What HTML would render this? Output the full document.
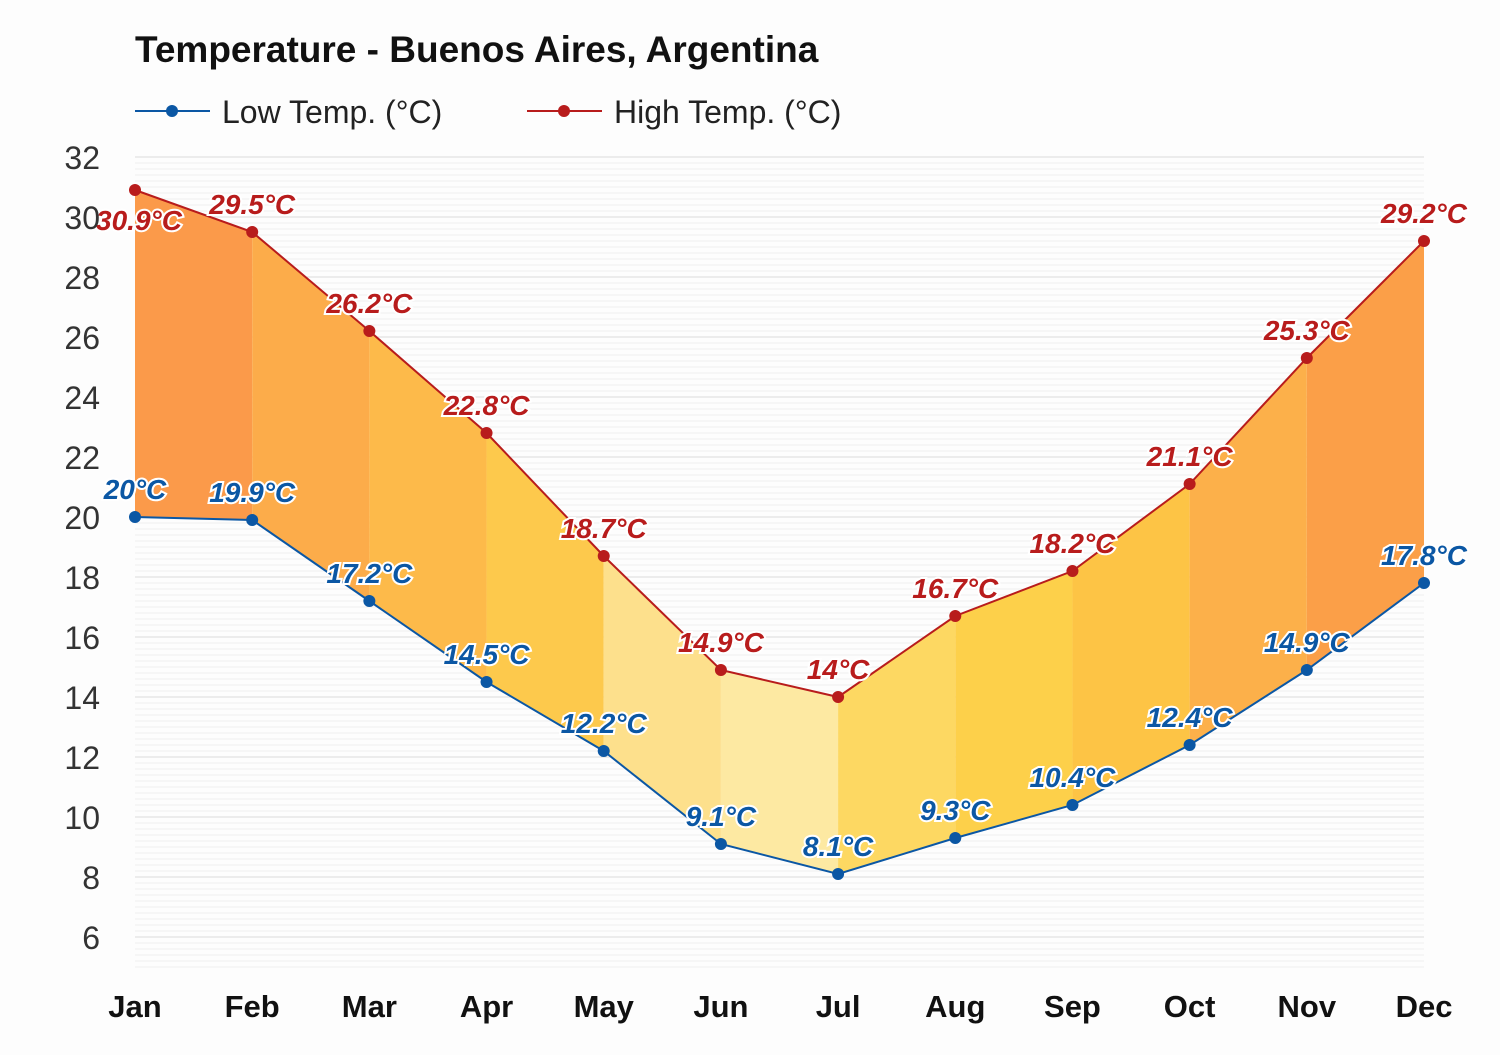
<!DOCTYPE html>
<html><head><meta charset="utf-8"><style>
body{margin:0;background:#fdfdfd;}
svg text{font-family:"Liberation Sans",Arial,sans-serif;}
.lbl{font-size:28px;font-weight:bold;font-style:italic;text-anchor:middle;paint-order:stroke;stroke:#fff;stroke-width:4px;}
</style></head><body>
<svg id="c" width="1500" height="1050" xmlns="http://www.w3.org/2000/svg">
<rect width="1500" height="1050" fill="#fdfdfd"/>
<text x="135" y="62" font-size="37" font-weight="bold" fill="#111">Temperature - Buenos Aires, Argentina</text>
<g><line x1="135" y1="111" x2="210" y2="111" stroke="#0b57a4" stroke-width="2"/><circle cx="172" cy="111" r="6" fill="#0b57a4"/><text x="222" y="123" font-size="32" fill="#222">Low Temp. (°C)</text></g>
<g><line x1="527" y1="111" x2="602" y2="111" stroke="#b81c1c" stroke-width="2"/><circle cx="564" cy="111" r="6" fill="#b81c1c"/><text x="614" y="123" font-size="32" fill="#222">High Temp. (°C)</text></g>
<g id="grid"></g><g id="fills"></g><g id="lines"></g><g id="labels"></g><g id="axes"></g>
</svg>
<script>
const months=["Jan","Feb","Mar","Apr","May","Jun","Jul","Aug","Sep","Oct","Nov","Dec"];
const highs=[30.9,29.5,26.2,22.8,18.7,14.9,14,16.7,18.2,21.1,25.3,29.2];
const lows=[20,19.9,17.2,14.5,12.2,9.1,8.1,9.3,10.4,12.4,14.9,17.8];
const yTicks=[6,8,10,12,14,16,18,20,22,24,26,28,30,32];
const segColors=["#fb9a4a","#fcac4a","#fdba4a","#fdc94c","#fde08c","#fde9a2","#fdd862","#fdd04a","#fdc445","#fcb04a","#fb9f48"];
const NS="http://www.w3.org/2000/svg";
const X=i=>135+i*(1424-135)/11;
const Y=v=>517-(v-20)*30;
function mk(t,a,p){const e=document.createElementNS(NS,t);for(const k in a)e.setAttribute(k,a[k]);document.getElementById(p).appendChild(e);return e;}
for(let y=Y(32);y<=967;y+=6){const g=mk('line',{x1:135,x2:1424,y1:y,y2:y,stroke:'#efefef','stroke-width':1},'grid');

}
yTicks.forEach(v=>{const g=mk('line',{x1:135,x2:1424,y1:Y(v),y2:Y(v),stroke:'#dcdcdc','stroke-width':1},'grid');


const t=mk('text',{x:100,y:Y(v)+12,'text-anchor':'end','font-size':32,fill:'#333'},'axes');t.textContent=v;

});
months.forEach((m,i)=>{const t=mk('text',{x:X(i),y:1017,'text-anchor':'middle','font-size':31,'font-weight':'bold',fill:'#111'},'axes');t.textContent=m;

});
for(let i=0;i<11;i++){const p=mk('polygon',{points:`${X(i)},${Y(highs[i])} ${X(i+1)},${Y(highs[i+1])} ${X(i+1)},${Y(lows[i+1])} ${X(i)},${Y(lows[i])}`,fill:segColors[i]},'fills');

}
[[lows,'#0b57a4','low'],[highs,'#b81c1c','high']].forEach(([d,c,n])=>{
const pl=mk('polyline',{points:d.map((v,i)=>X(i)+','+Y(v)).join(' '),fill:'none',stroke:c,'stroke-width':2},'lines');


d.forEach((v,i)=>{const pt=mk('circle',{cx:X(i),cy:Y(v),r:6,fill:c},'lines');


let lx=X(i),ly=Y(v)-18;
if(n==='high'&&i===0){lx=X(i)+4;ly=Y(v)+40;}
const t=mk('text',{x:lx,y:ly,class:'lbl',fill:c},'labels');t.textContent=v+'°C';

});});
</script>
</body></html>
